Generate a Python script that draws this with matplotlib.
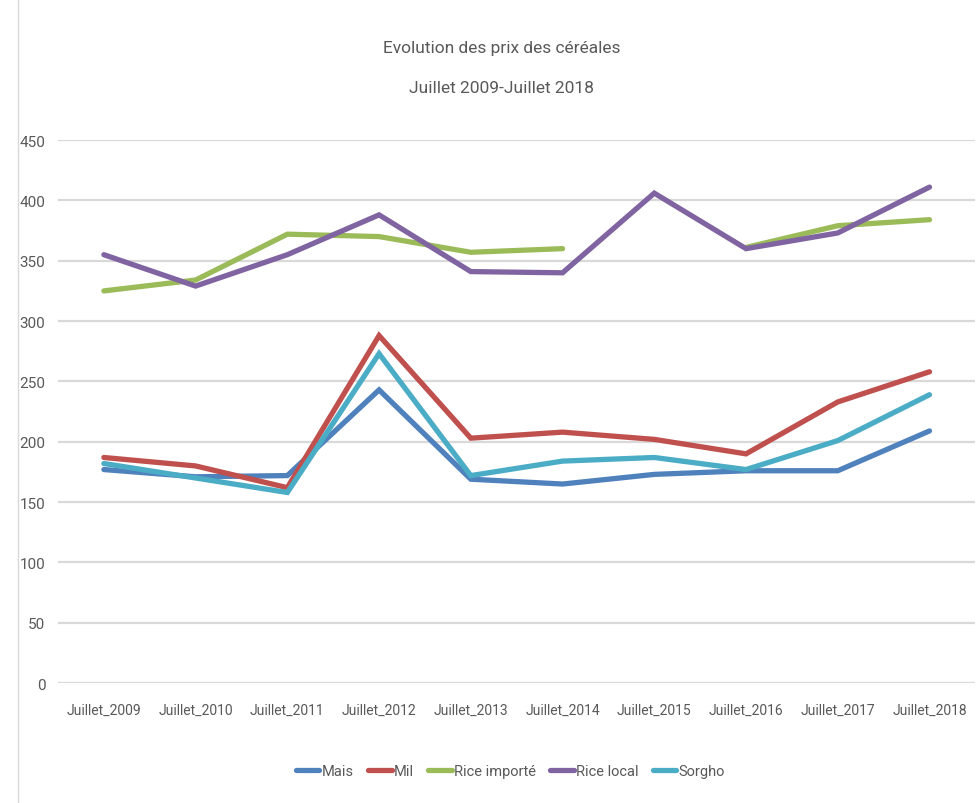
import numpy as np
import matplotlib.pyplot as plt
from matplotlib.lines import Line2D

plt.rcParams['font.family'] = ['Roboto', 'DejaVu Sans']

years = ['Juillet_2009', 'Juillet_2010', 'Juillet_2011', 'Juillet_2012', 'Juillet_2013',
         'Juillet_2014', 'Juillet_2015', 'Juillet_2016', 'Juillet_2017', 'Juillet_2018']

mais = [177, 171, 172, 243, 169, 165, 173, 176, 176, 209]
mil = [187, 180, 162, 288, 203, 208, 202, 190, 233, 258]
rice_importe = [325, 334, 372, 370, 357, 360, np.nan, 361, 379, 384]
rice_local = [355, 329, 355, 388, 341, 340, 406, 360, 373, 411]
sorgho = [182, 170, 158, 273, 172, 184, 187, 177, 201, 239]

series = [('Mais', mais, '#4F81BD'),
          ('Mil', mil, '#C0504D'),
          ('Rice importé', rice_importe, '#9BBB59'),
          ('Rice local', rice_local, '#8064A2'),
          ('Sorgho', sorgho, '#4BACC6')]

text_color = '#595959'

fig = plt.figure(figsize=(9.78, 8.04), dpi=100)
ax = fig.add_axes([0.0593, 0.149, 0.938, 0.6756])

x = np.arange(len(years))
for name, vals, col in series:
    ax.plot(x, vals, color=col, lw=3.8, label=name, solid_capstyle='round',
            solid_joinstyle='miter')

ax.set_xlim(-0.5, len(years) - 0.5)
ax.set_ylim(0, 450)
ax.set_yticks(range(0, 451, 50))
ax.set_xticks(x)
ax.set_xticklabels(years)
ax.grid(axis='y', color='#D9D9D9', lw=1.6)
ax.set_axisbelow(True)
for s in ax.spines.values():
    s.set_visible(False)
ax.tick_params(axis='both', length=0, colors=text_color)
ax.tick_params(axis='x', pad=14, labelsize=10)
ax.tick_params(axis='y', pad=9, labelsize=11)

fig.text(0.513, 0.94, 'Evolution des prix des céréales', ha='center', va='center',
         fontsize=12.5, color=text_color)
fig.text(0.513, 0.89, 'Juillet 2009-Juillet 2018', ha='center', va='center',
         fontsize=12.5, color=text_color)

handles = [Line2D([0], [0], color=c, lw=3.8, solid_capstyle='round') for _, _, c in series]
fig.legend(handles, [n for n, _, _ in series], loc='center', bbox_to_anchor=(0.522, 0.04),
           ncol=5, frameon=False, fontsize=10.5, handlelength=1.6, handletextpad=0.15,
           columnspacing=1.0, labelcolor=text_color)

# left border of the chart area
fig.add_artist(Line2D([0.018, 0.018], [0.0, 1.0], color='#D9D9D9', lw=1))

fig.savefig('out.png', dpi=100)
